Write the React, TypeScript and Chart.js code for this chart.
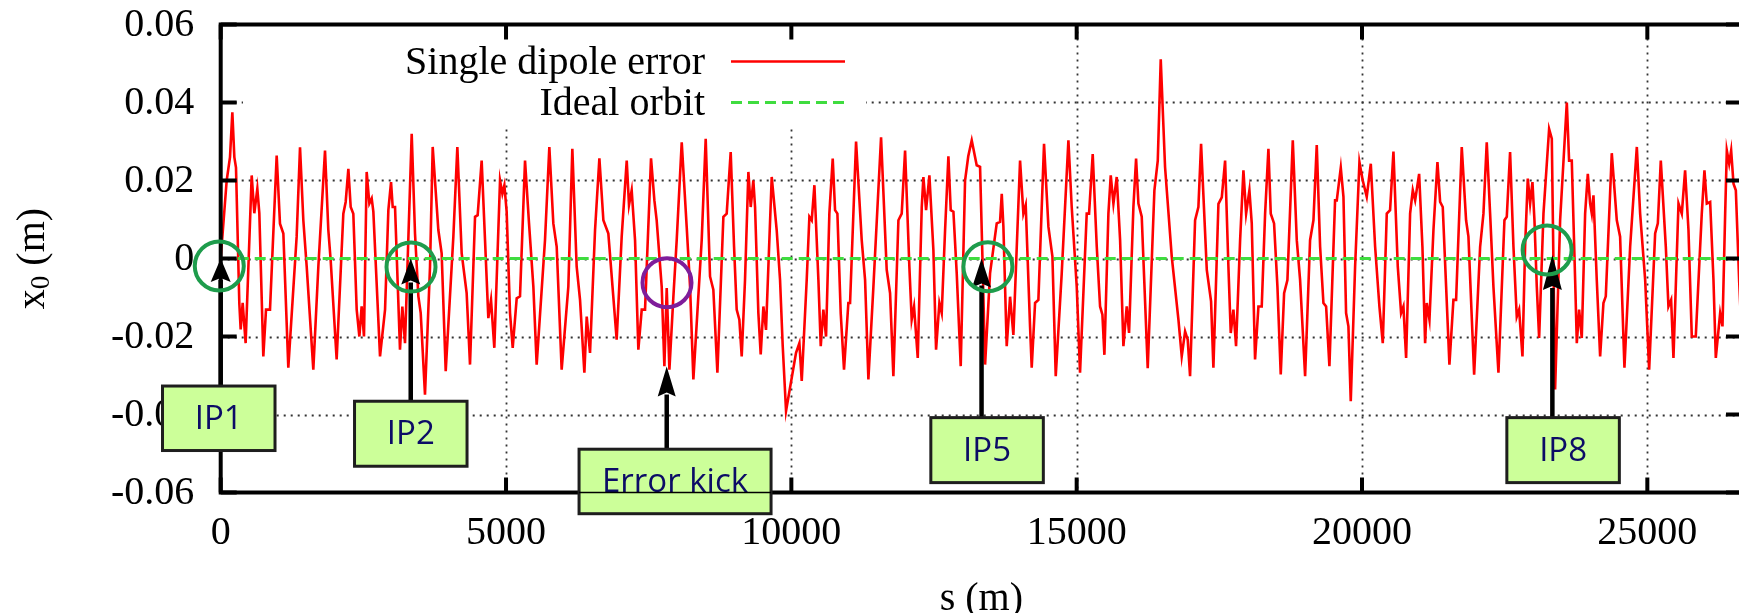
import React, { useEffect, useRef } from "react";
import { Chart, registerables } from "chart.js";

Chart.register(...registerables);

// ---------- data ----------
const sPos: number[] = [
  0, 105, 163, 204, 239, 268, 326, 350, 385, 437, 543, 589, 642, 677, 747, 794, 864, 981, 1039, 1098,
  1185, 1331, 1390, 1448, 1507, 1623, 1711, 1828, 1886, 1927, 2032, 2149, 2190, 2237, 2278, 2324, 2383, 2430, 2470, 2511,
  2558, 2605, 2646, 2675, 2792, 2880, 2938, 2985, 3014, 3055, 3142, 3183, 3230, 3347, 3405, 3464, 3505, 3580, 3668, 3715,
  3814, 3872, 3943, 4077, 4147, 4223, 4310, 4369, 4457, 4503, 4573, 4632, 4690, 4737, 4795, 4895, 4936, 4971, 5011, 5070,
  5117, 5187, 5245, 5333, 5403, 5479, 5537, 5625, 5683, 5759, 5829, 5888, 5975, 6092, 6162, 6238, 6297, 6373, 6414, 6472,
  6560, 6636, 6706, 6793, 6939, 7027, 7115, 7155, 7202, 7261, 7319, 7378, 7436, 7541, 7600, 7640, 7728, 7775, 7816, 7863,
  7933, 7991, 8079, 8166, 8225, 8283, 8429, 8499, 8575, 8633, 8704, 8809, 8867, 8937, 8996, 9042, 9089, 9130, 9188, 9247,
  9288, 9334, 9364, 9422, 9463, 9510, 9556, 9656, 9743, 9802, 9849, 9907, 10082, 10141, 10182, 10269, 10316, 10357, 10404, 10474,
  10515, 10561, 10608, 10666, 10725, 10766, 10807, 10865, 10923, 10999, 11029, 11134, 11233, 11292, 11350, 11438, 11572, 11671, 11730, 11788,
  11876, 11934, 11993, 12068, 12109, 12150, 12215, 12285, 12314, 12361, 12419, 12489, 12536, 12594, 12635, 12694, 12752, 12793, 12840, 12898,
  12968, 13044, 13100, 13161, 13248, 13307, 13348, 13395, 13482, 13599, 13657, 13687, 13716, 13774, 13833, 13891, 14008, 14066, 14107, 14183,
  14212, 14271, 14329, 14428, 14505, 14575, 14633, 14738, 14855, 14913, 15001, 15059, 15176, 15217, 15281, 15352, 15410, 15451, 15486, 15556,
  15597, 15644, 15702, 15761, 15819, 15877, 15918, 15994, 16041, 16082, 16140, 16245, 16362, 16421, 16473, 16549, 16666, 16783, 16841, 16900,
  16946, 16987, 17075, 17133, 17180, 17280, 17355, 17396, 17484, 17543, 17601, 17659, 17700, 17747, 17793, 17864, 17922, 17969, 18027, 18068,
  18126, 18185, 18243, 18302, 18360, 18401, 18459, 18518, 18576, 18635, 18693, 18787, 18857, 18915, 19003, 19090, 19149, 19207, 19266, 19324,
  19371, 19429, 19528, 19558, 19628, 19675, 19721, 19762, 19803, 19879, 19955, 20013, 20083, 20154, 20230, 20305, 20364, 20434, 20492, 20551,
  20627, 20685, 20726, 20773, 20843, 20890, 20931, 21001, 21059, 21106, 21135, 21182, 21252, 21322, 21369, 21415, 21474, 21532, 21602, 21649,
  21748, 21824, 21865, 21965, 22070, 22128, 22186, 22245, 22303, 22391, 22496, 22537, 22595, 22654, 22712, 22753, 22812, 22858, 22905, 22946,
  22987, 23022, 23063, 23104, 23180, 23279, 23326, 23384, 23472, 23589, 23629, 23676, 23735, 23764, 23805, 23851, 23910, 23957, 23998, 24027,
  24056, 24114, 24173, 24231, 24272, 24377, 24465, 24523, 24599, 24699, 24816, 24874, 24962, 25032, 25137, 25184, 25236, 25324, 25370, 25417,
  25458, 25546, 25604, 25662, 25721, 25779, 25849, 25954, 26001, 26042, 26101, 26159, 26200, 26276, 26317, 26364, 26393, 26434, 26469, 26510,
  26551, 26610, 26659,
];

const x0Vals: number[] = [
  0.0, 0.020, 0.026, 0.0375, 0.026, 0.0233, -0.0114, -0.0182, -0.0114, -0.0217, 0.0213, 0.0116, 0.0179, 0.0116, -0.0251, -0.0131, -0.0131, 0.0264, 0.0089, 0.0064,
  -0.028, 0.0056, 0.0285, 0.0098, -0.0021, -0.0285, -0.0021, 0.0277, 0.0073, -0.0004, -0.0259, 0.0115, 0.0145, 0.023, 0.0132, 0.0115, -0.0131, -0.02, -0.0123, -0.02,
  0.0222, 0.0141, 0.0154, 0.012, -0.0251, -0.0131, 0.0124, 0.0196, 0.0132, 0.0132, -0.0234, -0.0123, -0.0217, 0.032, 0.0064, -0.0097, -0.014, -0.0349, -0.0021, 0.0286,
  0.0073, 0.0013, -0.0289, 0.0056, 0.0286, 0.0013, -0.0089, -0.0272, 0.0107, 0.0111, 0.0251, 0.0047, -0.0153, -0.0106, -0.0229, 0.02, 0.0166, 0.0188, 0.012, -0.014,
  -0.0229, -0.0102, -0.0097, 0.0251, 0.009, -0.0072, -0.0272, -0.008, 0.0047, 0.0286, 0.009, 0.003, -0.0285, -0.0072, 0.0281, -0.0021, -0.0106, -0.0293, -0.0149, -0.0242,
  0.0073, 0.0257, 0.0098, 0.0064, -0.0208, 0.0056, 0.0251, 0.0137, 0.0175, 0.0047, -0.0234, -0.0131, -0.0131, 0.0257, 0.0149, 0.0098, -0.0072, -0.0276, -0.0076, -0.0285,
  -0.0097, 0.0047, 0.0298, 0.0081, -0.0072, -0.031, 0.0047, 0.0307, -0.0046, -0.008, -0.0293, 0.0107, 0.0115, 0.0273, 0.003, -0.0131, -0.0157, -0.0251, -0.0055, 0.0222,
  0.0132, 0.02, 0.0132, -0.014, -0.0246, -0.0123, -0.0183, 0.0209, 0.0073, -0.0055, -0.0225, -0.0391, -0.0242, -0.0217, -0.0314, -0.0055, 0.0107, 0.0098, 0.0188, -0.0055,
  -0.0225, -0.0131, -0.02, 0.0115, 0.0256, 0.0124, 0.0115, -0.014, -0.0285, -0.0114, -0.0114, 0.03, 0.0047, -0.0055, -0.031, -0.0072, 0.0311, -0.0029, -0.0089, -0.0302,
  0.0098, 0.0115, 0.0277, -0.0021, -0.0157, -0.0123, -0.0255, 0.0132, 0.0209, 0.0124, 0.0213, 0.0022, -0.0234, -0.0114, -0.014, 0.0073, 0.0262, 0.0124, 0.012, -0.0038,
  -0.0276, 0.02, 0.0262, 0.0303, 0.0239, 0.0235, 0.0005, -0.0272, -0.0038, 0.009, 0.0094, 0.0166, 0.0081, -0.0225, -0.0098, -0.0196, 0.0251, 0.0115, 0.0137, -0.0174,
  -0.028, -0.0114, -0.0106, 0.0294, 0.0081, 0.0005, -0.0302, -0.0038, 0.0303, 0.0132, -0.0072, -0.0293, 0.0115, 0.0115, 0.0268, 0.003, -0.0123, -0.0144, -0.0247, 0.0115,
  0.0213, 0.0141, 0.0209, 0.0047, -0.0225, -0.0123, -0.0191, 0.0132, 0.0256, 0.0141, 0.0107, -0.0281, 0.0175, 0.0251, 0.0511, 0.0234, 0.0005, -0.0157, -0.0251, -0.0187,
  -0.0208, -0.0302, 0.0098, 0.0132, 0.0294, -0.0029, -0.011, -0.028, 0.014, 0.0157, 0.0251, -0.0021, -0.0191, -0.0131, -0.0225, 0.0047, 0.0226, 0.0115, 0.0175, 0.009,
  -0.0259, -0.0123, -0.0123, 0.0115, 0.0281, 0.0115, 0.009, -0.0072, -0.0297, -0.0089, -0.0055, 0.0303, 0.0047, -0.0055, -0.0302, 0.0047, 0.0098, 0.0291, 0.003, -0.0114,
  -0.0123, -0.0276, 0.0149, 0.0149, 0.0233, 0.0158, -0.014, -0.0174, -0.0366, -0.0021, 0.0247, 0.02, 0.0158, 0.0243, 0.003, -0.0123, -0.0217, 0.0115, 0.0124, 0.0274,
  -0.0021, -0.014, -0.0123, -0.0255, 0.0115, 0.0175, 0.0149, 0.0217, 0.003, -0.0217, -0.0114, -0.0157, 0.0073, 0.0247, 0.0145, 0.0132, -0.0072, -0.0272, -0.0106, -0.0106,
  0.0286, 0.0098, 0.0056, -0.0298, 0.003, 0.0115, 0.0298, 0.0115, -0.0072, -0.0293, 0.0098, 0.0107, 0.0273, 0.003, -0.0149, -0.0131, -0.0251, 0.003, 0.0205, 0.0141,
  0.0196, 0.0098, -0.0072, -0.0204, 0.0115, 0.0332, 0.0307, -0.0336, 0.0098, 0.04, 0.0251, 0.0251, -0.0055, -0.0217, -0.0131, -0.0204, 0.0115, 0.0217, 0.0141, 0.0115,
  0.0162, -0.0055, -0.0251, -0.0114, -0.0097, 0.027, 0.0098, 0.0056, -0.028, 0.003, 0.0286, 0.0115, -0.0055, -0.0285, 0.0064, 0.009, 0.0251, 0.003, -0.0123, -0.0106,
  -0.0255, 0.0141, 0.0115, 0.0226, 0.0073, -0.02, -0.02, 0.0115, 0.0226, 0.0141, 0.0145, -0.0055, -0.0255, -0.014, -0.0174, 0.0115, 0.0277, 0.0243, 0.0277, 0.0192,
  0.0175, -0.006, -0.022,
];

const idealS: number[] = [0, 26659];
const idealX: number[] = [0, 0];

const seriesLabels: string[] = ["Single dipole error", "Ideal orbit"];

const xMin = 0;
const xMax = 26659;
const yMin = -0.06;
const yMax = 0.06;
const xTicks: number[] = [0, 5000, 10000, 15000, 20000, 25000];
const xTickLabels: string[] = ["0", "5000", "10000", "15000", "20000", "25000"];
const yTicks: number[] = [-0.06, -0.04, -0.02, 0, 0.02, 0.04, 0.06];
const yTickLabels: string[] = ["-0.06", "-0.04", "-0.02", "0", "0.02", "0.04", "0.06"];
const xTitle = "s (m)";

// annotations (arrow position / tip in data units)
const annLabels: string[] = ["IP1", "IP2", "Error kick", "IP5", "IP8"];
const annArrowS: number[] = [0, 3330, 7816, 13333, 23336];
const annTipV: number[] = [0, 0, -0.0277, 0, 0.0009];
const annCircleS: number[] = [-25, 3335, 7821, 13444, 23244];
const annCircleV: number[] = [-0.0019, -0.0022, -0.0062, -0.0021, 0.0022];
const annBoxS: number[] = [-34, 3331, 7962, 13430, 23524];
const annBoxTopV: number[] = [-0.0327, -0.0366, -0.0489, -0.0408, -0.0408];

// ---------- layout / style ----------
const W = 1760;
const H = 613;
const PLOT_LEFT = 220.7;
const PLOT_RIGHT = 1742;
const PLOT_TOP = 24.5;
const PLOT_BOTTOM = 492.5;
const SERIF = '"Liberation Serif", "Times New Roman", Times, serif';
const SANS = '"Open Sans", "Noto Sans", sans-serif';

const annHeadLen = [23.5, 26, 30, 29, 35];
const annHeadHalf = [10, 9.5, 9, 9.5, 9.5];
const annBoxW = [112.5, 112.5, 192, 112.5, 112.5];
const annBoxH = [64.5, 65, 64.5, 65, 65];
const annCircleColor = ["#1e9c4c", "#1e9c4c", "#7f1d9a", "#1e9c4c", "#1e9c4c"];

const gnuplotPlugin = {
  id: "gnuplotLook",
  beforeDatasetsDraw(chart: any) {
    const { ctx, chartArea: a, scales } = chart;
    const x = scales.x;
    const y = scales.y;
    ctx.save();
    ctx.strokeStyle = "#333";
    ctx.lineWidth = 1.8;
    ctx.setLineDash([2, 5]);
    for (const v of xTicks) {
      if (v === xMin) continue;
      const px = Math.round(x.getPixelForValue(v)) + 0.5;
      ctx.beginPath();
      ctx.moveTo(px, a.top);
      ctx.lineTo(px, a.bottom);
      ctx.stroke();
    }
    for (const v of yTicks) {
      if (v <= yMin || v >= yMax) continue;
      const py = Math.round(y.getPixelForValue(v)) + 0.5;
      ctx.beginPath();
      ctx.moveTo(a.left, py);
      ctx.lineTo(a.right, py);
      ctx.stroke();
    }
    ctx.setLineDash([]);
    // key area keeps the grid clear
    ctx.fillStyle = "#ffffff";
    ctx.fillRect(243, a.top + 3, 866 - 243, 125 - a.top - 3);
    ctx.restore();
  },
  afterDraw(chart: any) {
    const { ctx, chartArea: a, scales } = chart;
    const x = scales.x;
    const y = scales.y;
    ctx.save();

    // frame
    ctx.strokeStyle = "#000";
    ctx.lineWidth = 4;
    ctx.strokeRect(a.left, a.top, a.right - a.left, a.bottom - a.top);

    // inward ticks
    ctx.lineCap = "butt";
    for (const v of yTicks) {
      const py = y.getPixelForValue(v);
      ctx.beginPath();
      ctx.moveTo(a.left, py);
      ctx.lineTo(a.left + 16, py);
      ctx.moveTo(a.right, py);
      ctx.lineTo(a.right - 16, py);
      ctx.stroke();
    }
    for (const v of xTicks) {
      const px = x.getPixelForValue(v);
      ctx.beginPath();
      ctx.moveTo(px, a.bottom);
      ctx.lineTo(px, a.bottom - 15);
      ctx.moveTo(px, a.top);
      ctx.lineTo(px, a.top + 15);
      ctx.stroke();
    }

    // tick labels
    ctx.fillStyle = "#000";
    ctx.font = `40px ${SERIF}`;
    ctx.textAlign = "right";
    ctx.textBaseline = "middle";
    yTicks.forEach((v, i) => {
      ctx.fillText(yTickLabels[i], a.left - 26.5, y.getPixelForValue(v) + 1);
    });
    ctx.textAlign = "center";
    xTicks.forEach((v, i) => {
      ctx.fillText(xTickLabels[i], x.getPixelForValue(v), a.bottom + 41);
    });

    // x title
    ctx.fillText(xTitle, (a.left + a.right) / 2, a.bottom + 107);

    // y title: x_0 (m), rotated
    ctx.save();
    ctx.translate(33, (a.top + a.bottom) / 2);
    ctx.rotate(-Math.PI / 2);
    ctx.textAlign = "left";
    ctx.font = `40px ${SERIF}`;
    const wx = ctx.measureText("x").width;
    const wm = ctx.measureText(" (m)").width;
    ctx.font = `27px ${SERIF}`;
    const w0 = ctx.measureText("0").width;
    const total = wx + w0 + wm;
    let cx = -total / 2;
    ctx.font = `40px ${SERIF}`;
    ctx.fillText("x", cx, 0);
    cx += wx;
    ctx.font = `27px ${SERIF}`;
    ctx.fillText("0", cx, 9);
    cx += w0;
    ctx.font = `40px ${SERIF}`;
    ctx.fillText(" (m)", cx, 0);
    ctx.restore();

    // legend (key)
    ctx.font = `40px ${SERIF}`;
    ctx.textAlign = "right";
    ctx.textBaseline = "alphabetic";
    ctx.fillStyle = "#000";
    ctx.fillText(seriesLabels[0], 705, 74);
    ctx.fillText(seriesLabels[1], 705, 115);
    ctx.strokeStyle = "#ff0000";
    ctx.lineWidth = 2.6;
    ctx.beginPath();
    ctx.moveTo(731, 61.5);
    ctx.lineTo(845, 61.5);
    ctx.stroke();
    ctx.strokeStyle = "#3fdc3f";
    ctx.lineWidth = 3.2;
    ctx.setLineDash([11, 6]);
    ctx.beginPath();
    ctx.moveTo(731, 102.5);
    ctx.lineTo(845, 102.5);
    ctx.stroke();
    ctx.setLineDash([]);

    // annotations
    annLabels.forEach((label, i) => {
      const ax = x.getPixelForValue(annArrowS[i]);
      const tipY = y.getPixelForValue(annTipV[i]);
      const boxTop = y.getPixelForValue(annBoxTopV[i]);
      const baseY = tipY + annHeadLen[i];
      // shaft
      ctx.strokeStyle = "#000";
      ctx.lineWidth = 4.5;
      ctx.beginPath();
      ctx.moveTo(ax, boxTop);
      ctx.lineTo(ax, baseY - 2);
      ctx.stroke();
      // head
      ctx.fillStyle = "#000";
      ctx.beginPath();
      ctx.moveTo(ax, tipY);
      ctx.lineTo(ax + annHeadHalf[i], baseY);
      ctx.lineTo(ax, baseY - 4);
      ctx.lineTo(ax - annHeadHalf[i], baseY);
      ctx.closePath();
      ctx.fill();
      // circle
      ctx.strokeStyle = annCircleColor[i];
      ctx.lineWidth = 4;
      ctx.beginPath();
      ctx.arc(x.getPixelForValue(annCircleS[i]), y.getPixelForValue(annCircleV[i]), 24.5, 0, Math.PI * 2);
      ctx.stroke();
      // box
      const bcx = x.getPixelForValue(annBoxS[i]);
      const bw = annBoxW[i];
      const bh = annBoxH[i];
      ctx.fillStyle = "#ccff99";
      ctx.fillRect(bcx - bw / 2, boxTop, bw, bh);
      ctx.strokeStyle = "#1e1e1e";
      ctx.lineWidth = 3;
      ctx.strokeRect(bcx - bw / 2, boxTop, bw, bh);
      ctx.fillStyle = "#0c0c66";
      ctx.font = `33px ${SANS}`;
      ctx.textAlign = "center";
      ctx.textBaseline = "middle";
      ctx.fillText(label, bcx, boxTop + bh / 2 + 1);
      if (boxTop + bh > a.bottom && boxTop < a.bottom) {
        ctx.strokeStyle = "#000";
        ctx.lineWidth = 1.3;
        ctx.beginPath();
        ctx.moveTo(bcx - bw / 2, a.bottom);
        ctx.lineTo(bcx + bw / 2, a.bottom);
        ctx.stroke();
      }
    });

    ctx.restore();
  },
};

export default function App() {
  const canvasRef = useRef<HTMLCanvasElement | null>(null);

  useEffect(() => {
    const canvas = canvasRef.current;
    if (!canvas) return;
    const chart = new Chart(canvas, {
      type: "line",
      data: {
        datasets: [
          {
            label: seriesLabels[1],
            data: idealS.map((s, i) => ({ x: s, y: idealX[i] })),
            borderColor: "#3fdc3f",
            borderWidth: 3.2,
            borderDash: [11, 6],
            pointRadius: 0,
            fill: false,
          },
          {
            label: seriesLabels[0],
            data: sPos.map((s, i) => ({ x: s, y: x0Vals[i] })),
            borderColor: "#ff0000",
            borderWidth: 2.6,
            pointRadius: 0,
            tension: 0,
            fill: false,
          },
        ],
      },
      options: {
        responsive: false,
        animation: false,
        devicePixelRatio: 1,
        layout: {
          padding: { left: 0, right: W - PLOT_RIGHT, top: PLOT_TOP, bottom: 0 },
        },
        plugins: {
          legend: { display: false },
          tooltip: { enabled: false },
        },
        scales: {
          x: {
            type: "linear",
            min: xMin,
            max: xMax,
            grid: { display: false },
            border: { display: false },
            ticks: { display: false },
            afterFit: (s: any) => {
              s.height = H - PLOT_BOTTOM;
            },
          },
          y: {
            type: "linear",
            min: yMin,
            max: yMax,
            grid: { display: false },
            border: { display: false },
            ticks: { display: false },
            afterFit: (s: any) => {
              s.width = PLOT_LEFT;
            },
          },
        },
      } as any,
      plugins: [gnuplotPlugin],
    });
    return () => chart.destroy();
  }, []);

  return (
    <div
      style={{
        position: "fixed",
        left: 0,
        top: 0,
        width: "100vw",
        height: "100vh",
        overflow: "hidden",
        background: "#fff",
      }}
    >
      <canvas
        ref={canvasRef}
        width={W}
        height={H}
        style={{ display: "block", width: `${W}px`, height: `${H}px` }}
      />
    </div>
  );
}
